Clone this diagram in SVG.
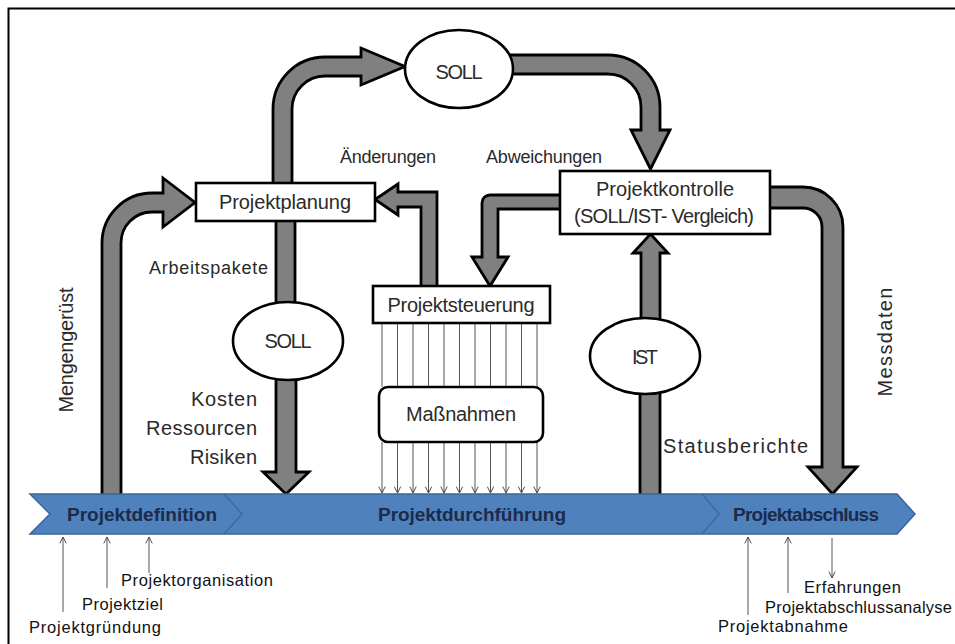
<svg xmlns="http://www.w3.org/2000/svg" width="955" height="644" viewBox="0 0 955 644">
<defs>
<style>
.t{font-family:"Liberation Sans",Arial,sans-serif;fill:#2a2a2a}
.big{font-size:20px}
.mid{font-size:18px}
.sm{font-size:16.5px;fill:#111}
.band{font-family:"Liberation Sans",Arial,sans-serif;font-weight:bold;font-size:19px;fill:#1c2b4a}
.arrow{fill:#808080;stroke:#000;stroke-width:2.8;stroke-linejoin:miter}
.box{fill:#fff;stroke:#000;stroke-width:2.6}
.ell{fill:#fff;stroke:#000;stroke-width:2.6}
.thin{stroke:#555;stroke-width:1;fill:none}
</style>
<marker id="v" viewBox="0 0 10 10" refX="9" refY="5" markerWidth="8" markerHeight="8" markerUnits="userSpaceOnUse" orient="auto">
<path d="M1,1 L9,5 L1,9" fill="none" stroke="#444" stroke-width="1.2"/>
</marker>
</defs>
<rect x="0" y="0" width="955" height="644" fill="#fff"/>
<rect x="8.5" y="8.5" width="960" height="650" fill="none" stroke="#000" stroke-width="2"/>

<g id="connectors">
<path class="arrow" d="M102,496 L102,243 A50,50 0 0 1 152,193 L163,193 L163,178 L195,202.5 L163,227 L163,212 L152,212 A31,31 0 0 0 121,243 L121,496 Z"/>
<path class="arrow" d="M273,184 L273,109 A52,52 0 0 1 325,57 L361,57 L361,48 L405,66.5 L361,85 L361,76 L325,76 A33,33 0 0 0 292,109 L292,184 Z"/>
<path class="arrow" d="M505,55 L608,55 A52,52 0 0 1 660,107 L660,130 L670,130 L650.5,169 L631,130 L641,130 L641,107 A33,33 0 0 0 608,74 L505,74 Z"/>
<path class="arrow" d="M561,195 L490,195 A8,8 0 0 0 482,203 L482,257 L472,257 L490,286 L508,257 L498,257 L498,209 L561,209 Z"/>
<path class="arrow" d="M421,287 L421,207 L398,207 L398,215 L375,199.5 L398,184 L398,192 L437,192 L437,287 Z"/>
<rect class="arrow" x="276" y="220" width="19" height="84"/>
<path class="arrow" d="M276,375 L276,472 L263,472 L286,494 L309,472 L296,472 L296,375 Z"/>
<path class="arrow" d="M769,187 L803,187 A40,40 0 0 1 843,227 L843,467 L857,467 L832.5,494 L808,467 L822,467 L822,227 A19,19 0 0 0 803,208 L769,208 Z"/>
<path class="arrow" d="M641,322 L641,253 L633,253 L650.5,234 L668,253 L660,253 L660,322 Z"/>
<rect class="arrow" x="640" y="388" width="20" height="108"/>
<g class="thin">
<path d="M382,323V387M397.5,323V387M413,323V387M428.5,323V387M444,323V387M459.5,323V387M475,323V387M490.5,323V387M506,323V387M521.5,323V387M537,323V387"/>
<path marker-end="url(#v)" d="M382,442V493"/><path marker-end="url(#v)" d="M397.5,442V493"/><path marker-end="url(#v)" d="M413,442V493"/><path marker-end="url(#v)" d="M428.5,442V493"/><path marker-end="url(#v)" d="M444,442V493"/><path marker-end="url(#v)" d="M459.5,442V493"/><path marker-end="url(#v)" d="M475,442V493"/><path marker-end="url(#v)" d="M490.5,442V493"/><path marker-end="url(#v)" d="M506,442V493"/><path marker-end="url(#v)" d="M521.5,442V493"/><path marker-end="url(#v)" d="M537,442V493"/>
<path marker-end="url(#v)" d="M63,612V537"/>
<path marker-end="url(#v)" d="M107,588V537"/>
<path marker-end="url(#v)" d="M149,573V537"/>
<path marker-end="url(#v)" d="M748,615V537"/>
<path marker-end="url(#v)" d="M788,593V537"/>
<path marker-end="url(#v)" d="M832,538V578"/>
</g>
</g>

<g id="timeline">
<path d="M30,494 L897,494 L915,514 L897,534 L30,534 L50,514 Z" fill="#4f81bd" stroke="#3a659c" stroke-width="1.5"/>
<path d="M224,494 L242,514 L224,534 M702,494 L719,514 L702,534" fill="none" stroke="#3d6aa5" stroke-width="1.5"/>
<text class="band" x="142" y="521" text-anchor="middle" textLength="150">Projektdefinition</text>
<text class="band" x="472" y="521" text-anchor="middle" textLength="188">Projektdurchführung</text>
<text class="band" x="806" y="521" text-anchor="middle" textLength="146">Projektabschluss</text>
</g>

<g id="soll-top">
<ellipse class="ell" cx="459" cy="69" rx="54" ry="39"/>
<text class="t big" x="459" y="79" text-anchor="middle" textLength="47">SOLL</text>
</g>
<g id="projektplanung">
<rect class="box" x="196" y="183" width="179" height="38"/>
<text class="t big" x="285" y="209" text-anchor="middle" textLength="132">Projektplanung</text>
</g>
<g id="projektkontrolle">
<rect class="box" x="560" y="171" width="210" height="63"/>
<text class="t big" x="665" y="196" text-anchor="middle" textLength="138">Projektkontrolle</text>
<text class="t big" x="664" y="223" text-anchor="middle" textLength="180">(SOLL/IST- Vergleich)</text>
</g>
<g id="projektsteuerung">
<rect class="box" x="373" y="286" width="177" height="37"/>
<text class="t big" x="461" y="312" text-anchor="middle" textLength="147">Projektsteuerung</text>
</g>
<g id="massnahmen">
<rect class="box" x="379" y="387" width="164" height="55" rx="9"/>
<text class="t big" x="461" y="421" text-anchor="middle" textLength="110">Maßnahmen</text>
</g>
<g id="soll-low">
<ellipse class="ell" cx="288" cy="341" rx="55" ry="39"/>
<text class="t big" x="288" y="348" text-anchor="middle" textLength="47">SOLL</text>
</g>
<g id="ist">
<ellipse class="ell" cx="645" cy="356" rx="55" ry="38"/>
<text class="t big" x="645" y="364" text-anchor="middle" textLength="26">IST</text>
</g>

<g id="labels">
<text class="t mid" x="149" y="274" textLength="119">Arbeitspakete</text>
<text class="t mid" x="340" y="163" textLength="96">Änderungen</text>
<text class="t mid" x="486" y="163" textLength="116">Abweichungen</text>
<text class="t big" x="257" y="406" text-anchor="end" textLength="66">Kosten</text>
<text class="t big" x="257" y="435" text-anchor="end" textLength="111">Ressourcen</text>
<text class="t big" x="257" y="464" text-anchor="end" textLength="67">Risiken</text>
<text class="t big" x="663" y="453" textLength="145">Statusberichte</text>
<text class="t big" transform="translate(73,350) rotate(-90)" text-anchor="middle" textLength="125">Mengengerüst</text>
<text class="t big" transform="translate(892,342) rotate(-90)" text-anchor="middle" textLength="109">Messdaten</text>
<text class="t sm" x="29" y="633" textLength="132">Projektgründung</text>
<text class="t sm" x="82" y="610" textLength="81">Projektziel</text>
<text class="t sm" x="121" y="586" textLength="152">Projektorganisation</text>
<text class="t sm" x="804" y="593" textLength="97">Erfahrungen</text>
<text class="t sm" x="765" y="613" textLength="187">Projektabschlussanalyse</text>
<text class="t sm" x="718" y="632" textLength="130">Projektabnahme</text>
</g>
</svg>
